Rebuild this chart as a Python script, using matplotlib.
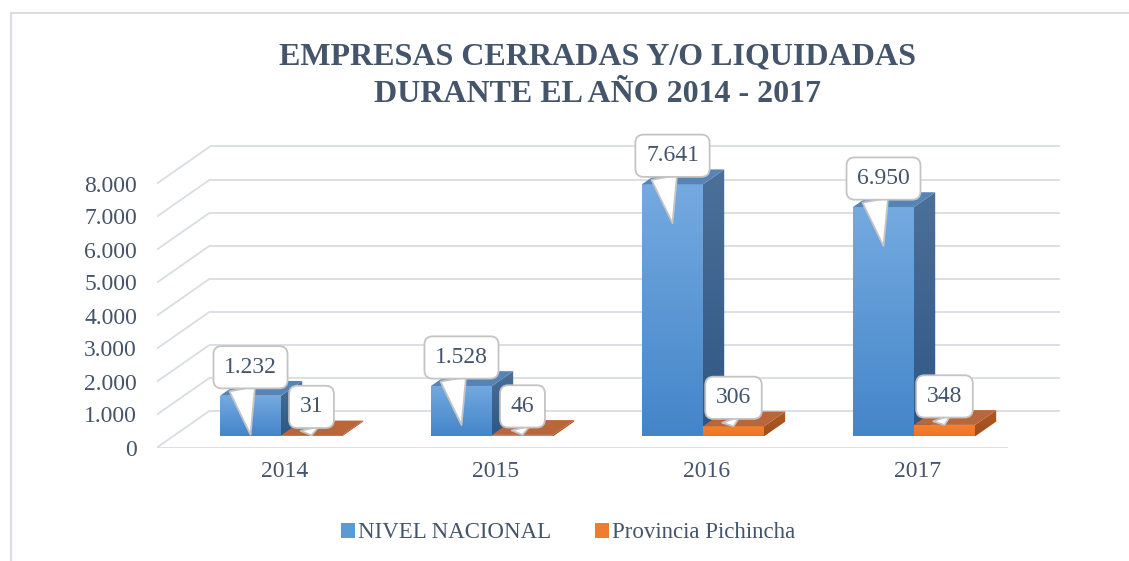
import numpy as np
import matplotlib
matplotlib.use('Agg')
import matplotlib.pyplot as plt
from matplotlib.patches import Polygon, Patch
from matplotlib.lines import Line2D

# ---------------- data ----------------
years = ['2014', '2015', '2016', '2017']
nacional = [1232, 1528, 7641, 6950]
pichincha = [31, 46, 306, 348]
series_names = ['NIVEL NACIONAL', 'Provincia Pichincha']
yticks = [0, 1000, 2000, 3000, 4000, 5000, 6000, 7000, 8000]
ytick_labels = ['0', '1.000', '2.000', '3.000', '4.000', '5.000', '6.000', '7.000', '8.000']
title_lines = ['EMPRESAS CERRADAS Y/O LIQUIDADAS', 'DURANTE EL AÑO 2014 - 2017']


def fmt(v):
    return f'{v:,}'.replace(',', '.')


# ---------------- style ----------------
plt.rcParams['font.family'] = ['Liberation Serif', 'DejaVu Serif']
TXT = '#44546A'
GRID = '#D9DDE4'
W, H = 1129, 561
fig = plt.figure(figsize=(W / 100, H / 100), dpi=100)

# axes placement (front plane of the 3D box)
ax = fig.add_axes([157 / W, (H - 447.5) / H, 913 / W, 317.5 / H])
PX_PER_CAT = 211.0
PX_PER_VAL = 0.033
XL = (157 - 285) / PX_PER_CAT          # front-left of floor
XR = (1007 - 285) / PX_PER_CAT         # front-right of floor
DX = 53 / PX_PER_CAT                   # full depth (x)
DY = 37 / PX_PER_VAL                   # full depth (y)
F0, F1 = 0.30, 0.70                    # bar depth position
BW = 61 / PX_PER_CAT                   # bar width
GOFF = -4 / PX_PER_CAT                 # group offset

# grid: side wall diagonals + back wall lines + floor front edge
for v in yticks:
    ax.plot([XL, XL + DX], [v, v + DY], color=GRID, lw=1.3, zorder=1, solid_capstyle='butt')
    ax.plot([XL + DX, XR + DX], [v + DY, v + DY], color=GRID, lw=1.3, zorder=1, solid_capstyle='butt')
ax.plot([XL, XR], [0, 0], color=GRID, lw=1.3, zorder=1)


def grad_fill(verts, ctop, cbot, z):
    poly = Polygon(verts, closed=True, facecolor='none', edgecolor='none', zorder=z)
    ax.add_patch(poly)
    xs = [p[0] for p in verts]
    ys = [p[1] for p in verts]
    g = np.linspace(0, 1, 64)[:, None, None]
    ct = np.array(matplotlib.colors.to_rgb(ctop))[None, None, :]
    cb = np.array(matplotlib.colors.to_rgb(cbot))[None, None, :]
    img = (1 - g) * ct + g * cb
    im = ax.imshow(img, extent=[min(xs), max(xs), min(ys), max(ys)], origin='upper',
                   aspect='auto', interpolation='bilinear', zorder=z)
    im.set_clip_path(poly)


def bar3d(x0, value, front_cols, side_cols, top_col, z):
    fx0 = x0 + F0 * DX
    fy0 = F0 * DY
    ddx = (F1 - F0) * DX
    ddy = (F1 - F0) * DY
    top = fy0 + value
    x1 = fx0 + BW
    # front
    grad_fill([(fx0, fy0), (x1, fy0), (x1, top), (fx0, top)], front_cols[0], front_cols[1], z)
    # side
    grad_fill([(x1, fy0), (x1 + ddx, fy0 + ddy), (x1 + ddx, top + ddy), (x1, top)],
              side_cols[0], side_cols[1], z)
    # top
    ax.add_patch(Polygon([(fx0, top), (x1, top), (x1 + ddx, top + ddy), (fx0 + ddx, top + ddy)],
                         closed=True, facecolor=top_col, edgecolor='none', zorder=z + 0.1))
    return fx0 + BW / 2, top


BLUE_F = ('#74AAE0', '#4485C9')
BLUE_S = ('#4C7099', '#2D5783')
BLUE_T = '#5584B5'
ORG_F = ('#F5822E', '#EC7426')
ORG_S = ('#B05A24', '#9C4E1C')
ORG_T = '#B8663A'

callouts = []
for i, yr in enumerate(years):
    c = i + GOFF  # center of group on the bar front plane
    base = c - F0 * DX
    cx_b, top_b = bar3d(base - BW, nacional[i], BLUE_F, BLUE_S, BLUE_T, 3 + i * 0.5)
    cx_o, top_o = bar3d(base, pichincha[i], ORG_F, ORG_S, ORG_T, 3.2 + i * 0.5)
    callouts.append((cx_b, top_b, nacional[i], 39, 1.1))
    callouts.append((cx_o, top_o, pichincha[i], 0, 0.8))

for cx, top, val, tipdown, tw in callouts:
    ax.annotate(fmt(val), xy=(cx, top - tipdown / PX_PER_VAL),
                xytext=(cx, top + 28.5 / PX_PER_VAL), textcoords='data',
                ha='center', va='center', fontsize=17, color=TXT, zorder=20,
                annotation_clip=False,
                bbox=dict(boxstyle='round,pad=0.45,rounding_size=0.35', fc='white',
                          ec='#C4C4C4', lw=1.3),
                arrowprops=dict(arrowstyle=f'wedge,tail_width={tw},shrink_factor=0.5',
                                fc='white', ec='#C4C4C4', lw=1.3,
                                relpos=(0.3, 0.08), shrinkA=0, shrinkB=0))

ax.set_xlim(XL, (1070 - 285) / PX_PER_CAT)
ax.set_ylim(0, 317.5 / PX_PER_VAL)
ax.set_yticks(yticks)
ax.set_yticklabels(ytick_labels)
ax.set_xticks(range(len(years)))
ax.set_xticklabels(years)
ax.tick_params(axis='y', length=0, pad=14.4, labelsize=17, labelcolor=TXT)
ax.tick_params(axis='x', length=0, pad=10, labelsize=17, labelcolor=TXT)
for s in ax.spines.values():
    s.set_visible(False)
ax.set_facecolor('none')

# title
fig.text(597.5 / W, 1 - 57 / H, title_lines[0], ha='center', va='center',
         fontsize=23, fontweight='bold', color=TXT)
fig.text(597.5 / W, 1 - 95 / H, title_lines[1], ha='center', va='center',
         fontsize=23, fontweight='bold', color=TXT)

# legend
handles = [Patch(facecolor='#5B9BD5', edgecolor='none'), Patch(facecolor='#ED7D31', edgecolor='none')]
fig.legend(handles, series_names, loc='center', bbox_to_anchor=(568 / W, 1 - 533 / H),
           ncol=2, frameon=False, fontsize=16.5, labelcolor=TXT,
           handlelength=0.62, handleheight=0.62, handletextpad=0.12, columnspacing=1.9)

# chart area border (top and left visible)
fig.add_artist(Line2D([11 / W, 11 / W], [0, 1 - 13 / H], transform=fig.transFigure,
                      color='#D9DEE6', lw=1.5))
fig.add_artist(Line2D([11 / W, 1], [1 - 13 / H, 1 - 13 / H], transform=fig.transFigure,
                      color='#D9DEE6', lw=1.5))

fig.savefig('out.png', dpi=100)
